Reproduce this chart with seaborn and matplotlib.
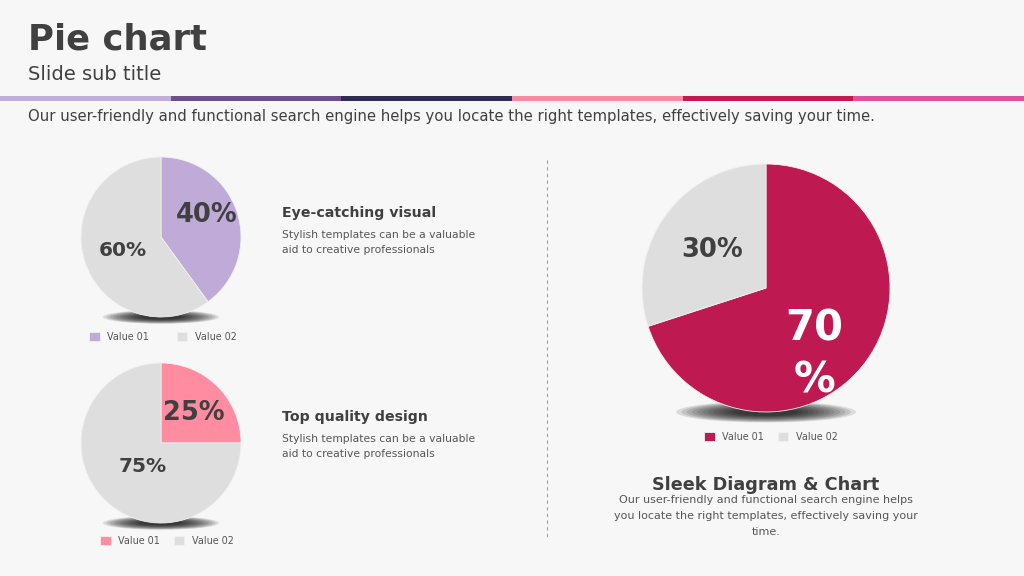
import matplotlib
matplotlib.use("Agg")
import matplotlib.pyplot as plt
from matplotlib.patches import Rectangle, Ellipse
import numpy as np
import seaborn as sns

sns.set_theme(style="white")
plt.rcParams["font.family"] = ["DejaVu Sans"]

# ---- data ----
legend_labels = ["Value 01", "Value 02"]
pie1_values = [40, 60]
pie1_labels = ["40%", "60%"]
pie2_values = [25, 75]
pie2_labels = ["25%", "75%"]
pie3_values = [70, 30]
pie3_labels = ["70\n%", "30%"]

title = "Pie chart"
subtitle = "Slide sub title"
intro = ("Our user-friendly and functional search engine helps you locate the right "
         "templates, effectively saving your time.")
head1 = "Eye-catching visual"
head2 = "Top quality design"
head3 = "Sleek Diagram & Chart"
body_small = "Stylish templates can be a valuable\naid to creative professionals"
body3 = ("Our user-friendly and functional search engine helps\n"
         "you locate the right templates, effectively saving your\ntime.")

# ---- style ----
W, H = 1024, 576
BG = "#f7f7f7"
DARK = "#404040"
BODY = "#555555"
GREY = "#dedede"
BAR_COLS = ["#bfaed9", "#6d4f8f", "#2f2b54", "#f98ba0", "#c2194f", "#e2509c"]

fig = plt.figure(figsize=(W / 100, H / 100), dpi=100, facecolor=BG)


def ftxt(x, y, s, **kw):
    kw.setdefault("color", DARK)
    return fig.text(x / W, 1 - y / H, s, **kw)


# header
ftxt(28, 39, title, fontsize=25.5, fontweight="bold", va="center")
ftxt(28, 75, subtitle, fontsize=14, va="center")
seg = W / len(BAR_COLS)
for i, c in enumerate(BAR_COLS):
    fig.patches.append(Rectangle((i * seg / W, 1 - 101 / H), seg / W, 5 / H,
                                 transform=fig.transFigure, color=c, lw=0))
ftxt(28, 117, intro, fontsize=10.75, va="center", color=DARK)

# dashed divider
fig.add_artist(plt.Line2D([547 / W, 547 / W], [1 - 160 / H, 1 - 537 / H],
                          transform=fig.transFigure, color="#a0a0a0",
                          lw=0.8, ls=(0, (3, 3))))


def draw_pie(cx, cy, r, values, labels, color, label_pos, label_sizes,
             label_colors, leg_xy, colspace):
    pad = 1.25
    ax = fig.add_axes([(cx - r * pad) / W, 1 - (cy + r * pad) / H,
                       2 * r * pad / W, 2 * r * pad / H])
    ax.set_xlim(-pad, pad)
    ax.set_ylim(-pad, pad)
    ax.set_aspect("equal")
    ax.axis("off")
    # soft shadow under the pie
    for k in range(12):
        ax.add_patch(Ellipse((0, -1.0), 1.45 - k * 0.085, 0.17 - k * 0.01,
                             color="black", alpha=0.11, lw=0, zorder=0))
    wedges, _ = ax.pie(values, colors=[color, GREY], startangle=90,
                       counterclock=False, radius=1,
                       wedgeprops=dict(edgecolor="#f0f0f0", linewidth=0.6))
    for w, lab, (dist, shift), fs, tc in zip(wedges, labels, label_pos,
                                            label_sizes, label_colors):
        th = np.deg2rad((w.theta1 + w.theta2) / 2 + shift)
        ax.text(dist * np.cos(th), dist * np.sin(th), lab, ha="center",
                va="center", fontsize=fs, fontweight="bold", color=tc,
                linespacing=1.3, zorder=5)
    ax.legend(wedges, legend_labels, loc="center", ncol=2, frameon=False,
              bbox_to_anchor=(leg_xy[0] / W, 1 - leg_xy[1] / H),
              bbox_transform=fig.transFigure, fontsize=6.9,
              handlelength=1.1, handleheight=1.1, handletextpad=0.8,
              columnspacing=colspace, labelcolor=BODY)
    return ax


draw_pie(161, 237, 80, pie1_values, pie1_labels, "#bfaad8",
         [(0.63, 8), (0.5, 1)], [18.5, 14.5], [DARK, DARK], (163, 337), 2.9)
draw_pie(161, 443, 80, pie2_values, pie2_labels, "#ff8ca1",
         [(0.56, -3), (0.37, 7)], [18.5, 14.5], [DARK, DARK], (167, 541), 1.4)
draw_pie(766, 288, 124, pie3_values, pie3_labels, "#be1a51",
         [(0.66, -18), (0.53, 1)], [30, 18.5], ["white", DARK], (771, 437), 1.4)

# side texts
ftxt(282, 213, head1, fontsize=10.2, fontweight="bold", va="center")
ftxt(282, 230, body_small, fontsize=7.75, va="top", color=BODY, linespacing=1.65)
ftxt(282, 417, head2, fontsize=10.2, fontweight="bold", va="center")
ftxt(282, 434, body_small, fontsize=7.75, va="top", color=BODY, linespacing=1.65)
ftxt(766, 485, head3, fontsize=12.7, fontweight="bold", va="center", ha="center")
ftxt(766, 495, body3, fontsize=8.0, va="top", ha="center", color=BODY,
     linespacing=1.72)

fig.savefig("out.png", dpi=100, facecolor=BG)
